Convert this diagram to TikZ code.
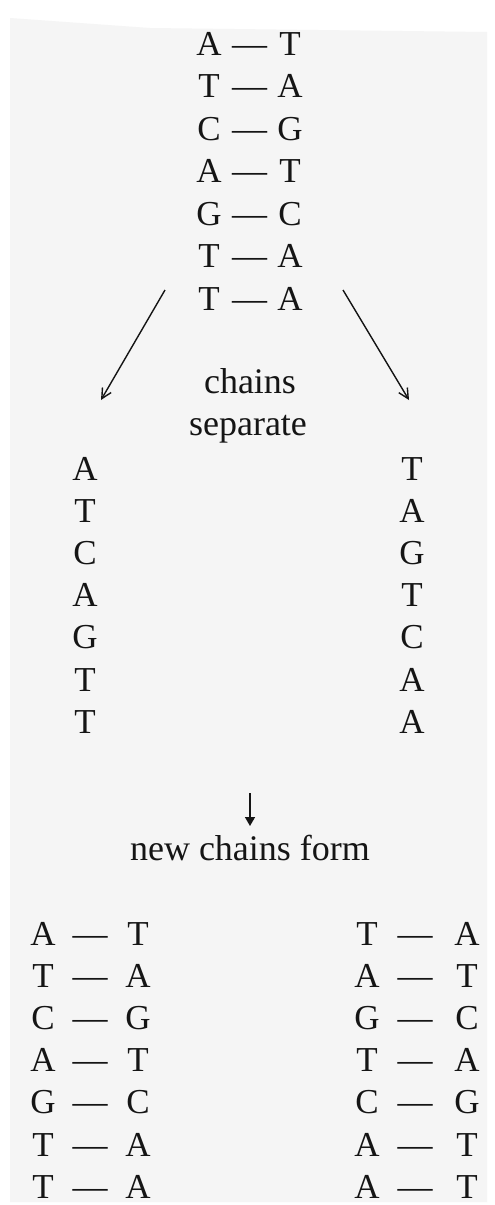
\documentclass[tikz,border=0pt]{standalone}
\usepackage{fontspec}
\setmainfont{Liberation Serif}
\usetikzlibrary{arrows.meta}
\definecolor{paper}{HTML}{F5F5F5}
\definecolor{ink}{HTML}{151515}
\begin{document}
\begin{tikzpicture}[x=1pt,y=-1pt,
  base/.style={font=\fontsize{35}{35}\selectfont, text=ink, inner sep=0pt, anchor=base},
  label/.style={font=\fontsize{36}{36}\selectfont, text=ink, inner sep=0pt, anchor=base},
  arr/.style={draw=ink, line width=1.4pt, -{Straight Barb[length=10pt,width=10pt]}},
  darr/.style={draw=ink, line width=1.4pt, -{Triangle[length=9pt,width=10pt]}}]
\useasboundingbox (0,0) rectangle (495,1205);
\fill[white] (0,0) rectangle (495,1205);
\fill[paper] (10,18) -- (150,28) -- (487,32) -- (487,1202) -- (10,1202) -- cycle;
% top double strand
\foreach \l/\r [count=\i] in {A/T,T/A,C/G,A/T,G/C,T/A,T/A}{
  \pgfmathsetmacro{\yy}{55+42.5*(\i-1)}
  \node[base] (tl\i) at (209,\yy) {\l};
  \node[base] (td\i) at (249.5,\yy) {—};
  \node[base] (tr\i) at (290,\yy) {\r};
}
\coordinate (ls) at (165,290);
\coordinate (le) at (101,400);
\coordinate (rs) at (343,290);
\coordinate (re) at (409,400);
\draw[arr] (ls) -- (le);
\draw[arr] (rs) -- (re);
\node[label] (chains) at (250,393) {chains};
\node[label] (separate) at (248,435) {separate};
% separated strands
\foreach \l/\r [count=\i] in {A/T,T/A,C/G,A/T,G/C,T/A,T/A}{
  \pgfmathsetmacro{\yy}{480+42.2*(\i-1)}
  \node[base] (sl\i) at (85,\yy) {\l};
  \node[base] (sr\i) at (412,\yy) {\r};
}
\coordinate (ds) at (250,793);
\coordinate (de) at (250,826);
\draw[darr] (ds) -- (de);
\node[label] (newform) at (250,860) {new chains form};
% new double strands
\foreach \l/\r [count=\i] in {A/T,T/A,C/G,A/T,G/C,T/A,T/A}{
  \pgfmathsetmacro{\yy}{945+42.2*(\i-1)}
  \node[base] (al\i) at (43,\yy) {\l};
  \node[base] (ad\i) at (90,\yy) {—};
  \node[base] (ar\i) at (138,\yy) {\r};
}
\foreach \l/\r [count=\i] in {T/A,A/T,G/C,T/A,C/G,A/T,A/T}{
  \pgfmathsetmacro{\yy}{945+42.2*(\i-1)}
  \node[base] (bl\i) at (367,\yy) {\l};
  \node[base] (bd\i) at (415,\yy) {—};
  \node[base] (br\i) at (467,\yy) {\r};
}
\end{tikzpicture}
\end{document}
